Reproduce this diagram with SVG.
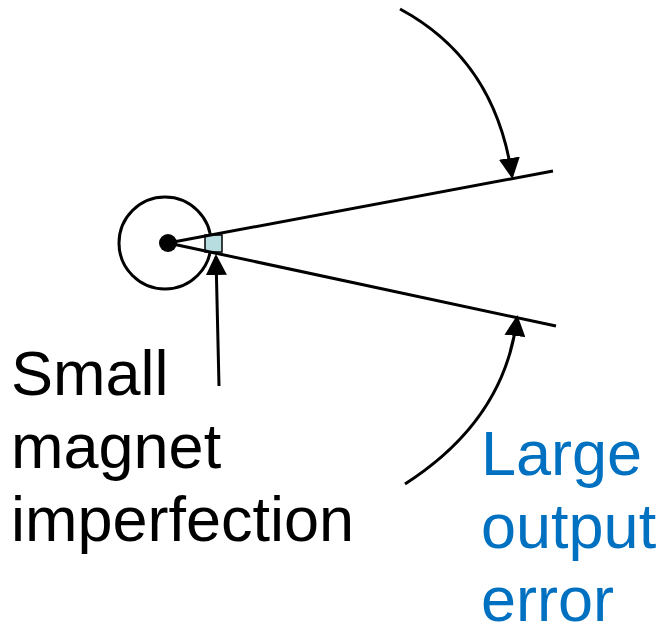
<svg xmlns="http://www.w3.org/2000/svg" width="665" height="634" viewBox="0 0 665 634">
<style>
.ln{stroke:#000;stroke-width:3;fill:none}
.t{font-family:"Liberation Sans",Arial,sans-serif;font-size:63px}
</style>
<defs>
<marker id="ah" markerWidth="7" markerHeight="7" refX="6" refY="3.5" orient="auto" markerUnits="strokeWidth" viewBox="0 0 7 7">
<path d="M0,0 L7,3.5 L0,7 z" fill="#000"/>
</marker>
</defs>
<rect width="665" height="634" fill="#fff"/>
<g id="magnet">
<circle cx="165" cy="243" r="46" class="ln"/>
<rect x="205" y="235" width="17" height="17" fill="#b7dde1" stroke="#000" stroke-width="1.5"/>
<circle cx="168" cy="243" r="9" fill="#000"/>
</g>
<g id="beams">
<line x1="168" y1="243" x2="553" y2="171" class="ln"/>
<line x1="168" y1="243" x2="556" y2="326" class="ln"/>
</g>
<g id="connectors">
<path d="M400,9 Q495,60 512,176" class="ln" marker-end="url(#ah)"/>
<path d="M405,484 Q505,420 517,318" class="ln" marker-end="url(#ah)"/>
<line x1="219" y1="386" x2="216" y2="257" class="ln" marker-end="url(#ah)"/>
</g>
<g id="label-small">
<text class="t" x="11" y="395">Small</text>
<text class="t" x="11" y="468">magnet</text>
<text class="t" x="11" y="541">imperfection</text>
</g>
<g id="label-large" fill="#0070c0">
<text class="t" x="481" y="475">Large</text>
<text class="t" x="481" y="548">output</text>
<text class="t" x="481" y="621">error</text>
</g>
</svg>
